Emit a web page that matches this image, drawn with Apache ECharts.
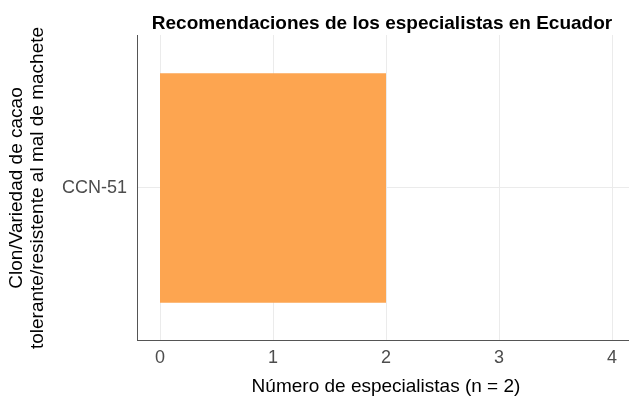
<!DOCTYPE html>
<html><head><meta charset="utf-8">
<script src="https://cdn.jsdelivr.net/npm/echarts@6/dist/echarts.min.js"></script>
<style>html,body{margin:0;padding:0;background:#fff}#c{width:629px;height:400px}</style>
</head><body><div id="c"></div>
<script>
const categories = ['CCN-51'];
const values = [2];
const xMin = 0, xMax = 4, xStep = 1;
const titleText = 'Recomendaciones de los especialistas en Ecuador';
const xName = 'Número de especialistas (n = 2)';
const yNameLines = ['Clon/Variedad de cacao', 'tolerante/resistente al mal de machete'];

const chart = echarts.init(document.getElementById('c'));
const F = 'Liberation Sans, Arial, sans-serif';
chart.setOption({
  animation: false,
  title: {
    text: titleText, left: 377, top: 9, textAlign: 'center',
    textStyle: {fontFamily: F, fontWeight: 'bold', fontSize: 19, color: '#000'}
  },
  grid: {left: 160, right: 17, top: 35, bottom: 59, containLabel: false, outerBoundsMode: 'none'},
  xAxis: {
    type: 'value', min: xMin, max: xMax, interval: xStep,
    axisLine: {show: false},
    axisTick: {show: false},
    axisLabel: {fontFamily: F, fontSize: 18, color: '#4d4d4d', margin: 8},
    splitLine: {show: true, lineStyle: {color: '#ebebeb', width: 1}},
    name: xName, nameLocation: 'middle', nameGap: 36,
    nameTextStyle: {fontFamily: F, fontSize: 19, color: '#000'}
  },
  yAxis: {
    type: 'category', data: categories,
    axisLine: {show: false},
    axisTick: {show: false},
    axisLabel: {fontFamily: F, fontSize: 18, color: '#4d4d4d', margin: 33},
    splitLine: {show: false}
  },
  graphic: [
    {type: 'line', shape: {x1: 137.5, y1: 35, x2: 137.5, y2: 341}, style: {stroke: '#555', lineWidth: 1}, z: 10},
    {type: 'line', shape: {x1: 137, y1: 340.5, x2: 629, y2: 340.5}, style: {stroke: '#555', lineWidth: 1}, z: 10},
    {type: 'line', shape: {x1: 138, y1: 187.5, x2: 629, y2: 187.5}, style: {stroke: '#ebebeb', lineWidth: 1}, z: -1},
    {type: 'text', x: 27, y: 188, rotation: Math.PI / 2,
     style: {text: yNameLines.join('\n'), fontFamily: F, fontSize: 19, fill: '#000', align: 'center', verticalAlign: 'middle', lineHeight: 21}}
  ],
  series: [{
    type: 'bar', data: values, barWidth: '75%',
    itemStyle: {color: '#FDA550'}, z: 2
  }]
});
</script></body></html>
